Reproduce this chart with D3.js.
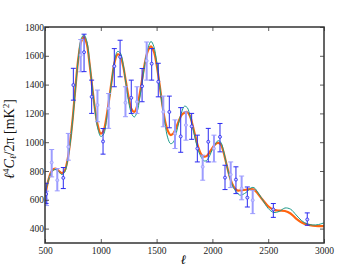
<!DOCTYPE html>
<html>
<head>
<meta charset="utf-8">
<script src="https://cdn.jsdelivr.net/npm/d3@7"></script>
<style>
  body { margin: 0; background: #fff; overflow: hidden; }
  svg { display: block; }
  .tick text { font-family: "Liberation Serif", "DejaVu Serif", serif; font-size: 9.5px; fill: #222; }
</style>
</head>
<body>
<script>
// model curves, every 25-50 in ell
const modelEll = [500,525,550,575,600,625,650,675,700,725,750,775,800,825,850,875,900,925,950,975,
  1000,1025,1050,1075,1100,1125,1150,1175,1200,1225,1250,1275,1300,1325,1350,1375,1400,1425,1450,1475,
  1500,1525,1550,1575,1600,1625,1650,1675,1700,1725,1750,1775,1800,1825,1850,1875,1900,1925,1950,1975,
  2000,2025,2050,2075,2100,2125,2150,2175,2200,2225,2250,2300,2350,2375,2400,2450,2500,2550,2600,2650,
  2700,2750,2800,2850,2900,2950,3000];
const orangeModel = [620,720,785,812,815,800,785,800,870,1000,1180,1400,1590,1700,1730,1680,1540,1370,1220,1110,
  1060,1080,1170,1300,1440,1560,1610,1600,1530,1420,1310,1230,1210,1250,1340,1460,1570,1640,1665,1630,
  1540,1410,1270,1150,1080,1050,1060,1100,1150,1190,1205,1210,1180,1110,1030,960,915,900,905,930,
  960,985,995,985,930,850,775,715,680,665,665,670,675,670,650,600,555,530,525,522,
  505,470,443,428,420,417,417];
const tealModel = [640,720,780,805,810,795,775,790,860,990,1170,1390,1590,1720,1745,1700,1550,1370,1210,1090,
  1040,1055,1150,1290,1440,1570,1630,1620,1540,1410,1280,1200,1175,1210,1310,1440,1570,1660,1700,1665,
  1560,1410,1260,1130,1030,990,1000,1060,1140,1210,1250,1240,1180,1100,1010,940,895,870,875,905,
  950,985,1010,1000,940,850,770,710,670,645,632,650,685,683,660,600,540,512,520,543,
  535,495,455,432,425,428,440];

// band powers, dark set
const darkEll = [510,664,754,850,918,1020,1121,1173,1273,1370,1456,1515,1614,1716,1814,1865,1963,2068,2113,2211,2313,2546,2850];
const darkVal = [640,752,1397,1625,1315,1005,1528,1592,1308,1389,1545,1420,1210,1040,1110,956,1003,1037,754,740,615,533,463];
const darkLo  = [575,678,1292,1490,1200,917,1385,1454,1200,1281,1431,1315,1100,930,1020,863,863,933,671,643,550,478,423];
const darkHi  = [715,824,1513,1750,1431,1095,1650,1708,1431,1512,1650,1548,1320,1240,1200,1049,1096,1130,840,829,689,574,509];

// band powers, light set
const lightEll = [514,560,610,709,820,970,1070,1221,1324,1411,1560,1665,1763,1913,2014,2164,2262,2361];
const lightVal = [600,859,736,968,1605,1258,1235,1274,1281,1565,1211,1061,1119,829,956,775,678,597];
const lightLo  = [560,759,662,875,1489,1142,1096,1177,1200,1431,1107,956,1014,736,863,685,600,504];
const lightHi  = [660,949,817,1061,1713,1362,1338,1385,1385,1696,1320,1155,1211,910,1049,863,765,666];

const xTicks = [500,1000,1500,2000,2500,3000];
const yTicks = [400,600,800,1000,1200,1400,1600,1800];

const width = 360;
const height = 270;
const margin = { top: 27, right: 36, bottom: 27, left: 45 };
const innerWidth = width - margin.left - margin.right;
const innerHeight = height - margin.top - margin.bottom;

const svg = d3.select('body').append('svg')
  .attr('width', width)
  .attr('height', height);

const g = svg.append('g')
  .attr('transform', `translate(${margin.left},${margin.top})`);

const xScale = d3.scaleLinear().domain([500, 3000]).range([0, innerWidth]);
const yScale = d3.scaleLinear().domain([300, 1800]).range([innerHeight, 0]);

g.append('clipPath').attr('id', 'plot-clip')
  .append('rect').attr('width', innerWidth).attr('height', innerHeight);

const plot = g.append('g').attr('clip-path', 'url(#plot-clip)');

const line = d3.line()
  .x(d => xScale(d[0]))
  .y(d => yScale(d[1]))
  .curve(d3.curveCatmullRom);

plot.append('path')
  .datum(modelEll.map((l, i) => [l, orangeModel[i]]))
  .attr('fill', 'none')
  .attr('stroke', '#ff6410')
  .attr('stroke-width', 2.2)
  .attr('d', line);

plot.append('path')
  .datum(modelEll.map((l, i) => [l, tealModel[i]]))
  .attr('fill', 'none')
  .attr('stroke', '#1b9a8a')
  .attr('stroke-width', 1)
  .attr('d', line);

const drawBars = (ells, vals, los, his, color, sw) => {
  const data = ells.map((l, i) => ({ l, v: vals[i], lo: los[i], hi: his[i] }));
  const bar = plot.append('g').selectAll('g').data(data).enter().append('g')
    .attr('stroke', color)
    .attr('stroke-width', sw);
  bar.append('line')
    .attr('x1', d => xScale(d.l)).attr('x2', d => xScale(d.l))
    .attr('y1', d => yScale(d.lo)).attr('y2', d => yScale(d.hi));
  bar.append('line')
    .attr('x1', d => xScale(d.l) - 2.5).attr('x2', d => xScale(d.l) + 2.5)
    .attr('y1', d => yScale(d.lo)).attr('y2', d => yScale(d.lo))
    .attr('stroke-width', 1);
  bar.append('line')
    .attr('x1', d => xScale(d.l) - 2.5).attr('x2', d => xScale(d.l) + 2.5)
    .attr('y1', d => yScale(d.hi)).attr('y2', d => yScale(d.hi))
    .attr('stroke-width', 1);
  bar.append('circle')
    .attr('cx', d => xScale(d.l))
    .attr('cy', d => yScale(d.v))
    .attr('r', 1.5)
    .attr('fill', '#c8c8ff')
    .attr('stroke-width', 0.8);
};

drawBars(lightEll, lightVal, lightLo, lightHi, '#9c9cff', 2);
drawBars(darkEll, darkVal, darkLo, darkHi, '#2a2af0', 1);

// axes, ticks pointing inward on all four sides
const fmt = d3.format('d');
const xAxis = d3.axisBottom(xScale).tickValues(xTicks).tickFormat(fmt).tickSize(-4).tickPadding(4).tickSizeOuter(0);
const yAxis = d3.axisLeft(yScale).tickValues(yTicks).tickFormat(fmt).tickSize(-4).tickPadding(1).tickSizeOuter(0);

const xg = g.append('g').attr('transform', `translate(0,${innerHeight})`).call(xAxis);
const yg = g.append('g').call(yAxis);
const xt = g.append('g').call(d3.axisTop(xScale).tickValues(xTicks).tickSize(-4).tickFormat('').tickSizeOuter(0));
const yr = g.append('g').attr('transform', `translate(${innerWidth},0)`)
  .call(d3.axisRight(yScale).tickValues(yTicks).tickSize(-4).tickFormat('').tickSizeOuter(0));

[xg, yg, xt, yr].forEach(a => {
  a.select('.domain').remove();
  a.selectAll('.tick line').attr('stroke', '#333').attr('stroke-width', 0.8);
});

g.append('rect')
  .attr('width', innerWidth)
  .attr('height', innerHeight)
  .attr('fill', 'none')
  .attr('stroke', '#333')
  .attr('stroke-width', 1.5);

// axis labels
svg.append('text')
  .attr('x', margin.left + innerWidth / 2 - 1)
  .attr('y', 264)
  .attr('text-anchor', 'middle')
  .attr('font-family', 'Liberation Serif, DejaVu Serif, serif')
  .attr('font-style', 'italic')
  .attr('font-size', 13)
  .text('ℓ');

const ylab = svg.append('text')
  .attr('transform', `translate(14,${margin.top + innerHeight / 2 + 4}) rotate(-90)`)
  .attr('text-anchor', 'middle')
  .attr('font-family', 'Liberation Serif, DejaVu Serif, serif')
  .attr('font-size', 14)
  .attr('fill', '#111');
ylab.append('tspan').attr('font-style', 'italic').text('ℓ');
ylab.append('tspan').attr('font-size', 9).attr('dy', -5).text('4');
ylab.append('tspan').attr('font-style', 'italic').attr('dy', 5).text('C');
ylab.append('tspan').attr('font-style', 'italic').attr('font-size', 9).attr('dy', 2).text('ℓ');
ylab.append('tspan').attr('dy', -2).text('/2π [mK');
ylab.append('tspan').attr('font-size', 9).attr('dy', -5).text('2');
ylab.append('tspan').attr('dy', 5).text(']');
</script>
</body>
</html>
